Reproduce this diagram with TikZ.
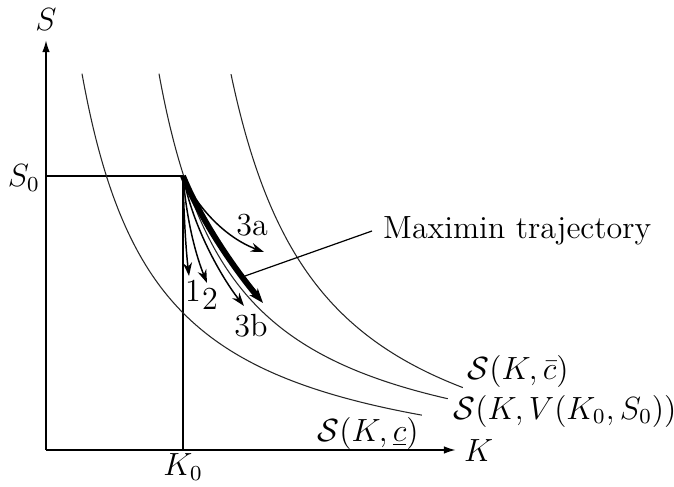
\documentclass[tikz,border=0pt]{standalone}
\usetikzlibrary{arrows.meta}
\begin{document}
\begin{tikzpicture}[x={(0.374pt,0)},y={(0,-0.374pt)},
  font=\fontsize{12}{14}\selectfont,
  axis/.style={line width=0.7pt,-{Latex[length=4.5pt,width=2.8pt]}},
  guide/.style={line width=0.45pt},
  level/.style={line width=0.4pt,black!85},
  traj/.style={line width=0.55pt,-{Stealth[length=5pt,width=3.4pt]}},
  maximin/.style={line width=2.2pt,-{Stealth[length=5.5pt,width=4pt]}},
  lbl/.style={inner sep=1pt},
  curvelbl/.style={inner sep=0pt,anchor=west}]
\useasboundingbox (0,0) rectangle (674,487);
% axes
\coordinate (O) at (46,450);
\coordinate (Ytop) at (46,40);
\coordinate (Xend) at (456,450);
\draw[axis] (O) -- (Ytop);
\draw[axis] (O) -- (Xend);
\node[lbl] (Slab) at (46,20) {$S$};
\node[lbl,anchor=west] (Klab) at (461,451) {$K$};
% initial point
\coordinate (P0) at (183,176);
\coordinate (Sax) at (46,176);
\coordinate (Kax) at (183,450);
\draw[guide] (Sax) -- (P0) -- (Kax);
\node[lbl,anchor=east] (S0lab) at (43,178) {$S_0$};
\node[lbl] (K0lab) at (183,467) {$K_0$};
% level curves (hyperbola-like)
\draw[level] plot[domain=-0.8575:0.8534,samples=80,smooth,variable=\u]
  ({7+176.8*exp(\u)},{490.5-176.8*exp(-\u)});
\draw[level] plot[domain=-0.854:0.7365,samples=80,smooth,variable=\u]
  ({85+173.8*exp(\u)},{482-173.8*exp(-\u)});
\draw[level] plot[domain=-0.780:0.479,samples=80,smooth,variable=\u]
  ({139+200.7*exp(\u)},{512-200.7*exp(-\u)});
\node[curvelbl] (Cbar) at (467,371) {$\mathcal{S}(K,\bar{c})$};
\node[curvelbl] (CV) at (453,411) {$\mathcal{S}(K,V(K_0,S_0))$};
\node[curvelbl] (Cund) at (317,433) {$\mathcal{S}(K,\underline{c})$};
% trajectories
\coordinate (E1) at (189,276);
\coordinate (E2) at (207,283);
\coordinate (E3b) at (244,306);
\coordinate (E3a) at (264,252);
\coordinate (Em) at (263,303);
\draw[traj] (P0) .. controls (184,220) and (186,250) .. (E1);
\draw[traj] (P0) .. controls (187,225) and (197,258) .. (E2);
\draw[traj] (P0) .. controls (193,228) and (222,278) .. (E3b);
\draw[traj] (P0) .. controls (197,208) and (226,238) .. (E3a);
\draw[maximin] (P0) .. controls (200,218) and (232,266) .. (Em);
\node[lbl] (l1) at (193,291) {1};
\node[lbl] (l2) at (210,299) {2};
\node[lbl] (l3b) at (251,326) {3b};
\node[lbl] (l3a) at (252,225) {3a};
% maximin label
\node[anchor=west,inner sep=4pt] (Mlab) at (372,231) {Maximin trajectory};
\coordinate (Mpt) at (245,276);
\draw[guide] (Mlab.west) -- (Mpt);
\end{tikzpicture}
\end{document}
